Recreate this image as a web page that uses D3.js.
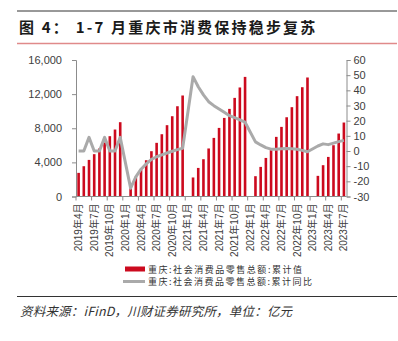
<!DOCTYPE html>
<html><head><meta charset="utf-8">
<script src="https://cdn.jsdelivr.net/npm/d3@7"></script>
<style>
html,body{margin:0;padding:0;background:#fff;}
svg{display:block;}
</style></head>
<body>
<svg id="c" width="398" height="341"></svg>
<script>
const months = [
 "2019年4月","2019年5月","2019年6月","2019年7月","2019年8月","2019年9月","2019年10月","2019年11月","2019年12月",
 "2020年1月","2020年2月","2020年3月","2020年4月","2020年5月","2020年6月","2020年7月","2020年8月","2020年9月","2020年10月","2020年11月","2020年12月",
 "2021年1月","2021年2月","2021年3月","2021年4月","2021年5月","2021年6月","2021年7月","2021年8月","2021年9月","2021年10月","2021年11月","2021年12月",
 "2022年1月","2022年2月","2022年3月","2022年4月","2022年5月","2022年6月","2022年7月","2022年8月","2022年9月","2022年10月","2022年11月","2022年12月",
 "2023年1月","2023年2月","2023年3月","2023年4月","2023年5月","2023年6月","2023年7月"
];
const cumValue = [
 2770,3550,4290,4960,5630,6330,7070,7850,8710,
 null,950,2320,3200,4250,5310,6290,7300,8360,9410,10580,11840,
 null,2230,3350,4370,5630,6870,8040,9210,10270,11560,12780,14020,
 null,2380,3470,4520,5430,6990,8160,9290,10470,11760,12810,13950,
 null,2420,3670,4640,6010,7380,8670
];
const cumYoY = [
 0,0,9.0,0,0,9.0,0,0,9.0,
 null,-24.5,-17,-12,-8.5,-5.5,-3.8,-2.5,-1.3,-0.2,0.9,1.8,
 null,49,42.4,37,32.5,29.9,27.7,25.5,23.3,22,20.5,19,
 null,6,4,2.2,1.2,1.2,1.5,1.7,1.5,1.2,0.4,-0.5,
 null,3.3,4.7,4.2,5.2,6.2,7.0
];
const leftTicks = [0,4000,8000,12000,16000];
const rightTicks = [-30,-20,-10,0,10,20,30,40,50,60];
const titleText = "图 4： 1-7 月重庆市消费保持稳步复苏";
const seriesNames = ["重庆:社会消费品零售总额:累计值","重庆:社会消费品零售总额:累计同比"];
const sourceText = "资料来源：iFinD，川财证券研究所，单位：亿元";

const svg = d3.select("#c");
const L = 76, R = 346.5, T = 60, B = 196.5;
const axisColor = "#8c8c8c", textColor = "#404040";
const barColor = "#cc0a1e", lineColor = "#aaaaaa";

// header
svg.append("line").attr("x1",17).attr("x2",397).attr("y1",11).attr("y2",11).attr("stroke","#333").attr("stroke-width",1);
svg.append("text").attr("x",19).attr("y",33).text(titleText)
  .attr("font-family","'Noto Sans CJK SC'").attr("font-weight","bold").attr("font-size",15)
  .attr("letter-spacing","2.2px").attr("fill","#1a1a1a");
svg.append("line").attr("x1",17).attr("x2",397).attr("y1",43.5).attr("y2",43.5).attr("stroke","#e08a8a").attr("stroke-width",1.5);

const x = d3.scaleBand().domain(months).range([L,R]).padding(0);
const yL = d3.scaleLinear().domain([0,16000]).range([B,T]);
const yR = d3.scaleLinear().domain([-30,60]).range([B,T]);

// bars
const bw = 2.6;
svg.append("g").selectAll("rect").data(months.map((m,i)=>({m,v:cumValue[i]})).filter(d=>d.v!=null))
  .join("rect")
  .attr("x",d=>x(d.m)+x.bandwidth()/2-bw/2)
  .attr("width",bw)
  .attr("y",d=>yL(d.v))
  .attr("height",d=>B-yL(d.v))
  .attr("fill",barColor);

// line
const lineData = months.map((m,i)=>({m,v:cumYoY[i]})).filter(d=>d.v!=null);
svg.append("path").datum(lineData)
  .attr("d",d3.line().x(d=>x(d.m)+x.bandwidth()/2).y(d=>yR(d.v)))
  .attr("fill","none").attr("stroke",lineColor).attr("stroke-width",3).attr("stroke-linejoin","round");

// left axis
const gl = svg.append("g").attr("transform",`translate(${L},0)`)
  .call(d3.axisLeft(yL).tickValues(leftTicks).tickFormat(d3.format(",")).tickSize(4).tickPadding(10));
// right axis
const gr = svg.append("g").attr("transform",`translate(${R},0)`)
  .call(d3.axisRight(yR).tickValues(rightTicks).tickFormat(d=>d<0?"-"+Math.abs(d):d).tickSize(4).tickPadding(3));
[gl,gr].forEach(g=>{
  g.select(".domain").attr("stroke",axisColor);
  g.selectAll(".tick line").attr("stroke",axisColor);
  g.selectAll("text").attr("font-family","'Liberation Sans',Arial").attr("font-size",11).attr("fill",textColor);
});

// x axis
const gx = svg.append("g").attr("transform",`translate(0,${B})`);
gx.append("line").attr("x1",L).attr("x2",R).attr("stroke",axisColor);
const tickIdx = d3.range(0, months.length+1, 3);
gx.selectAll("line.t").data(tickIdx).join("line").attr("class","t")
  .attr("x1",i=>L+i*x.step()).attr("x2",i=>L+i*x.step()).attr("y1",0).attr("y2",4).attr("stroke",axisColor);
gx.selectAll("text").data(months.filter((m,i)=>i%3===0)).join("text")
  .attr("transform",d=>`translate(${x(d)+x.bandwidth()/2+3.5},7) rotate(-90)`)
  .attr("text-anchor","end")
  .attr("font-family","'Liberation Sans','Noto Sans CJK SC'").attr("font-size",10).attr("fill",textColor)
  .text(d=>d);

// legend
const lg = svg.append("g");
lg.append("rect").attr("x",125).attr("y",266.5).attr("width",20).attr("height",5).attr("fill",barColor);
lg.append("line").attr("x1",123).attr("x2",145).attr("y1",281.5).attr("y2",281.5).attr("stroke",lineColor).attr("stroke-width",3);
const legendW = [154,164];
lg.selectAll("text").data(seriesNames).join("text")
  .attr("x",148).attr("y",(d,i)=>272.5+i*12.5)
  .attr("font-family","'Noto Sans CJK SC'").attr("font-size",9).attr("fill","#333")
  .attr("textLength",(d,i)=>legendW[i]).attr("lengthAdjust","spacing")
  .text(d=>d);

// footer
svg.append("line").attr("x1",17).attr("x2",397).attr("y1",296.5).attr("y2",296.5).attr("stroke","#333").attr("stroke-width",1);
svg.append("text").attr("x",20).attr("y",316).text(sourceText)
  .attr("font-family","'Noto Sans CJK SC'").attr("font-style","italic").attr("font-size",12.5)
  .attr("letter-spacing","0.2px").attr("fill","#333");
</script>
</body></html>
